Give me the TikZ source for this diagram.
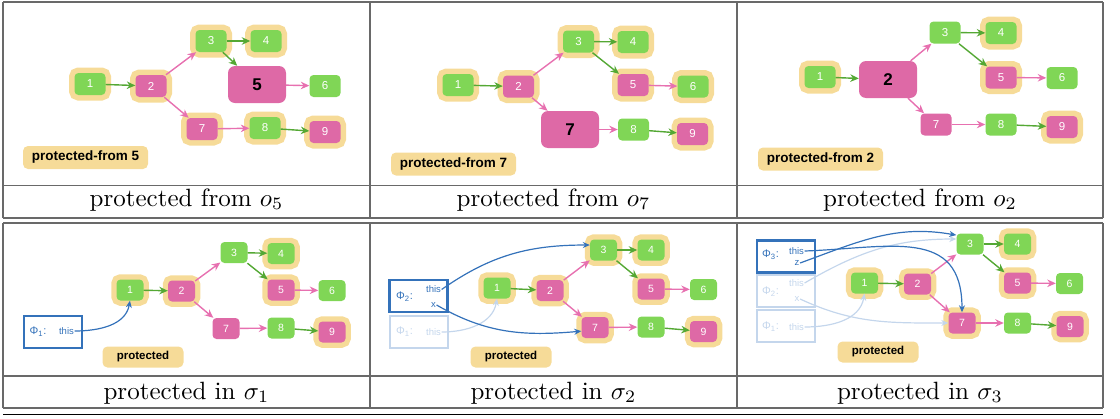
\documentclass[tikz,border=0pt]{standalone}
\usepackage{fontspec}
\usetikzlibrary{arrows.meta}
\newfontfamily\hsf{Liberation Sans}
\definecolor{ngreen}{RGB}{128,214,86}
\definecolor{npink}{RGB}{222,105,166}
\definecolor{htan}{RGB}{246,219,152}
\definecolor{egreen}{RGB}{84,168,52}
\definecolor{epink}{RGB}{231,112,176}
\definecolor{phiblue}{RGB}{52,114,186}
\definecolor{phifade}{RGB}{196,214,236}
\definecolor{rulegray}{RGB}{105,105,105}
\newcommand{\Phib}[1]{Φ\textsubscript{#1}:}

\begin{document}
\begin{tikzpicture}[
      x=1pt, y=-1pt,
      >={Stealth[length=8.5pt,width=7.5pt]},
      box/.style={rounded corners=4pt, minimum width=31pt, minimum height=22pt, inner sep=0pt, text=white, font=\hsf\fontsize{11.5}{11.5}\selectfont},
      gbox/.style={box, fill=ngreen},
      pbox/.style={box, fill=npink},
      halo/.style={preaction={draw=htan, line width=11pt}},
      big/.style={pbox, minimum width=58pt, minimum height=37pt, rounded corners=7pt, text=black, font=\hsf\bfseries\fontsize{17}{17}\selectfont},
      gedge/.style={draw=egreen, line width=1.4pt, ->},
      pedge/.style={draw=epink, line width=1.4pt, ->},
      tag/.style={fill=htan, rounded corners=5pt, minimum width=125pt, minimum height=23pt, inner sep=0pt, font=\hsf\bfseries\fontsize{13.5}{13.5}\selectfont},
      captext/.style={font=\normalsize, scale=2.5, transform shape, inner sep=0pt, anchor=base},
      rule/.style={draw=rulegray, line width=1.3pt},
      phibox/.style={draw=phiblue, line width=2pt, minimum width=58pt, minimum height=32pt, inner sep=0pt},
      fadebox/.style={phibox, draw=phifade},
      fld/.style={text=phiblue, inner sep=0.5pt, font=\hsf\fontsize{9.5}{9.5}\selectfont},
      phitxt/.style={fld, font=\hsf\fontsize{11}{11}\selectfont},
      fadefld/.style={fld, text=phifade},
      fadephi/.style={phitxt, text=phifade},
      blink/.style={draw=phiblue, line width=1.2pt, -{Stealth[length=7pt,width=6pt]}},
      fadelink/.style={blink, draw=phifade}
    ]
    \useasboundingbox (0,0) rectangle (1120,418);
    % Draw the table rules.
    \draw[rule] (3,2) -- (1103,2) (3,185.5) -- (1103,185.5) (3,218) -- (1103,218);
    \draw[rule] (3,223) -- (1103,223) (3,376) -- (1103,376) (3,408) -- (1103,408);
    \draw[line width=1pt] (3,414) -- (1103,414);
    \draw[rule] (3,2) -- (3,218) (370,2) -- (370,218) (737,2) -- (737,218) (1103,2) -- (1103,218);
    \draw[rule] (3,223) -- (3,408) (370,223) -- (370,408) (737,223) -- (737,408) (1103,223) -- (1103,408);

    % Protected from o5.
    \node[gbox,halo] (a1) at (90,84) {1};
    \node[pbox,halo] (a2) at (151,86) {2};
    \node[gbox,halo] (a3) at (211,41) {3};
    \node[gbox,halo] (a4) at (266,41) {4};
    \node[big] (a5) at (257,84.5) {5};
    \node[gbox] (a6) at (325,86) {6};
    \node[pbox,halo] (a7) at (202,129) {7};
    \node[gbox,halo] (a8) at (265,128) {8};
    \node[pbox,halo] (a9) at (325,132) {9};
    \node[tag] (atag) at (85.5,157.5) {protected-from 5};

    % Protected from o7.
    \node[gbox,halo] (b1) at (458,85) {1};
    \node[pbox,halo] (b2) at (518.5,86.5) {2};
    \node[gbox,halo] (b3) at (578.5,41.5) {3};
    \node[gbox,halo] (b4) at (633,42) {4};
    \node[pbox,halo] (b5) at (633,85) {5};
    \node[gbox,halo] (b6) at (693,86.5) {6};
    \node[big] (b7) at (570,129.5) {7};
    \node[gbox] (b8) at (633.5,129.5) {8};
    \node[pbox,halo] (b9) at (692.5,134) {9};
    \node[tag] (btag) at (453.5,164) {protected-from 7};

    % Protected from o2.
    \node[gbox,halo] (c1) at (820,77) {1};
    \node[big] (c2) at (888,79.5) {2};
    \node[gbox] (c3) at (945,32.5) {3};
    \node[gbox,halo] (c4) at (1001,33) {4};
    \node[pbox,halo] (c5) at (1001,77.5) {5};
    \node[gbox] (c6) at (1062,78) {6};
    \node[pbox] (c7) at (936,124.5) {7};
    \node[gbox] (c8) at (1001,124.5) {8};
    \node[pbox,halo] (c9) at (1062,127) {9};
    \node[tag] (ctag) at (820.5,159) {protected-from 2};

    \begin{scope}[
        box/.style={rounded corners=4pt, minimum width=27pt, minimum height=21pt, inner sep=0pt, text=white, font=\hsf\fontsize{10.5}{10.5}\selectfont},
        halo/.style={preaction={draw=htan, line width=10.5pt}},
        tag/.append style={minimum width=81pt, minimum height=21pt, font=\hsf\bfseries\fontsize{11.5}{11.5}\selectfont}
      ]
      % Protected in sigma1.
      \node[gbox,halo] (d1) at (130,290) {1};
      \node[pbox,halo] (d2) at (181.5,291) {2};
      \node[gbox] (d3) at (234,252.5) {3};
      \node[gbox,halo] (d4) at (281,253.5) {4};
      \node[pbox,halo] (d5) at (281,290) {5};
      \node[gbox] (d6) at (332,290.5) {6};
      \node[pbox] (d7) at (226,328.5) {7};
      \node[gbox] (d8) at (281,328) {8};
      \node[pbox,halo] (d9) at (332,332) {9};
      \node[tag] (dtag) at (143,357) {protected};
      \node[phibox] (d1box) at (52.5,332) {};
      \node[phitxt] (d1phi) at (38,332) {\Phib{1}};
      \node[fld] (d1this) at (66.5,331) {this};

      % Protected in sigma2.
      \node[gbox,halo] (e1) at (497,288) {1};
      \node[pbox,halo] (e2) at (550,290.5) {2};
      \node[gbox,halo] (e3) at (603.5,250) {3};
      \node[gbox,halo] (e4) at (651,250) {4};
      \node[pbox,halo] (e5) at (651,289) {5};
      \node[gbox] (e6) at (703.5,289.5) {6};
      \node[pbox,halo] (e7) at (595,327.5) {7};
      \node[gbox] (e8) at (651,327) {8};
      \node[pbox,halo] (e9) at (703.5,331.5) {9};
      \node[tag] (etag) at (511,357) {protected};
      \node[fadebox] (e1box) at (418.5,331.5) {};
      \node[fadephi] (e1phi) at (404.5,332) {\Phib{1}};
      \node[fadefld] (e1this) at (433.5,332) {this};
      \node[phibox, line width=2.4pt] (e2box) at (418.5,296) {};
      \node[phitxt] (e2phi) at (404.5,297) {\Phib{2}};
      \node[fld] (e2this) at (433.5,289.5) {this};
      \node[fld] (e2x) at (433.5,305) {x};

      % Protected in sigma3.
      \node[gbox,halo] (f1) at (864.5,283) {1};
      \node[pbox,halo] (f2) at (917.5,284) {2};
      \node[gbox] (f3) at (970,244) {3};
      \node[gbox,halo] (f4) at (1017.5,244) {4};
      \node[pbox,halo] (f5) at (1017.5,283) {5};
      \node[gbox] (f6) at (1069.5,283.5) {6};
      \node[pbox,halo] (f7) at (962,323) {7};
      \node[gbox] (f8) at (1017.5,323) {8};
      \node[pbox,halo] (f9) at (1070,326.5) {9};
      \node[tag] (ftag) at (878,352) {protected};
      \node[fadebox] (f1box) at (786,325.5) {};
      \node[fadephi] (f1phi) at (770.5,327) {\Phib{1}};
      \node[fadefld] (f1this) at (796.5,327) {this};
      \node[fadebox] (f2box) at (786,291) {};
      \node[fadephi] (f2phi) at (770.5,292) {\Phib{2}};
      \node[fadefld] (f2this) at (796.5,283) {this};
      \node[fadefld] (f2x) at (797,299) {x};
      \node[phibox, line width=2.4pt] (f3box) at (786,256.5) {};
      \node[phitxt] (f3phi) at (770.5,255) {\Phib{3}};
      \node[fld] (f3this) at (796.5,251) {this};
      \node[fld] (f3z) at (797,263) {z};
    \end{scope}

    % Draw the heap edges.
    \foreach \p in {a,b,c,d,e,f} {
      \draw[gedge] (\p1) -- (\p2);
      \draw[pedge] (\p2) -- (\p3);
      \draw[pedge] (\p2) -- (\p7);
      \draw[gedge] (\p3) -- (\p4);
      \draw[gedge] (\p3) -- (\p5);
      \draw[pedge] (\p5) -- (\p6);
      \draw[pedge] (\p7) -- (\p8);
      \draw[gedge] (\p8) -- (\p9);
    }

    % Draw the frame references.
    \draw[blink] (d1this.east) to[out=0,in=-100] (d1.south);
    \draw[fadelink] (e1this.east) to[out=0,in=-100] (e1.south);
    \draw[blink] (e2this.east) to[out=35,in=180] (e3.160);
    \draw[blink] (e2x.east) to[out=-30,in=185] (e7.195);
    \draw[fadelink] (f1this.east) to[out=0,in=-100] (f1.south);
    \draw[fadelink] (f2this.east) to[out=30,in=180] (f3.160);
    \draw[fadelink] (f2x.east) to[out=-25,in=180] (f7.west);
    \draw[blink] (f3this.east) to[out=2,in=90,looseness=1.3] (f7.north);
    \draw[blink] (f3z.east) to[out=20,in=170] (f3.147);

    % Draw the captions.
    \node[captext] (acap) at (186.5,206) {protected from $o_5$};
    \node[captext] (bcap) at (553.5,206) {protected from $o_7$};
    \node[captext] (ccap) at (920,206) {protected from $o_2$};
    \node[captext] (dcap) at (186.5,399) {protected in $\sigma_1$};
    \node[captext] (ecap) at (553.5,399) {protected in $\sigma_2$};
    \node[captext] (fcap) at (920,399) {protected in $\sigma_3$};
    \end{tikzpicture}
\end{document}
